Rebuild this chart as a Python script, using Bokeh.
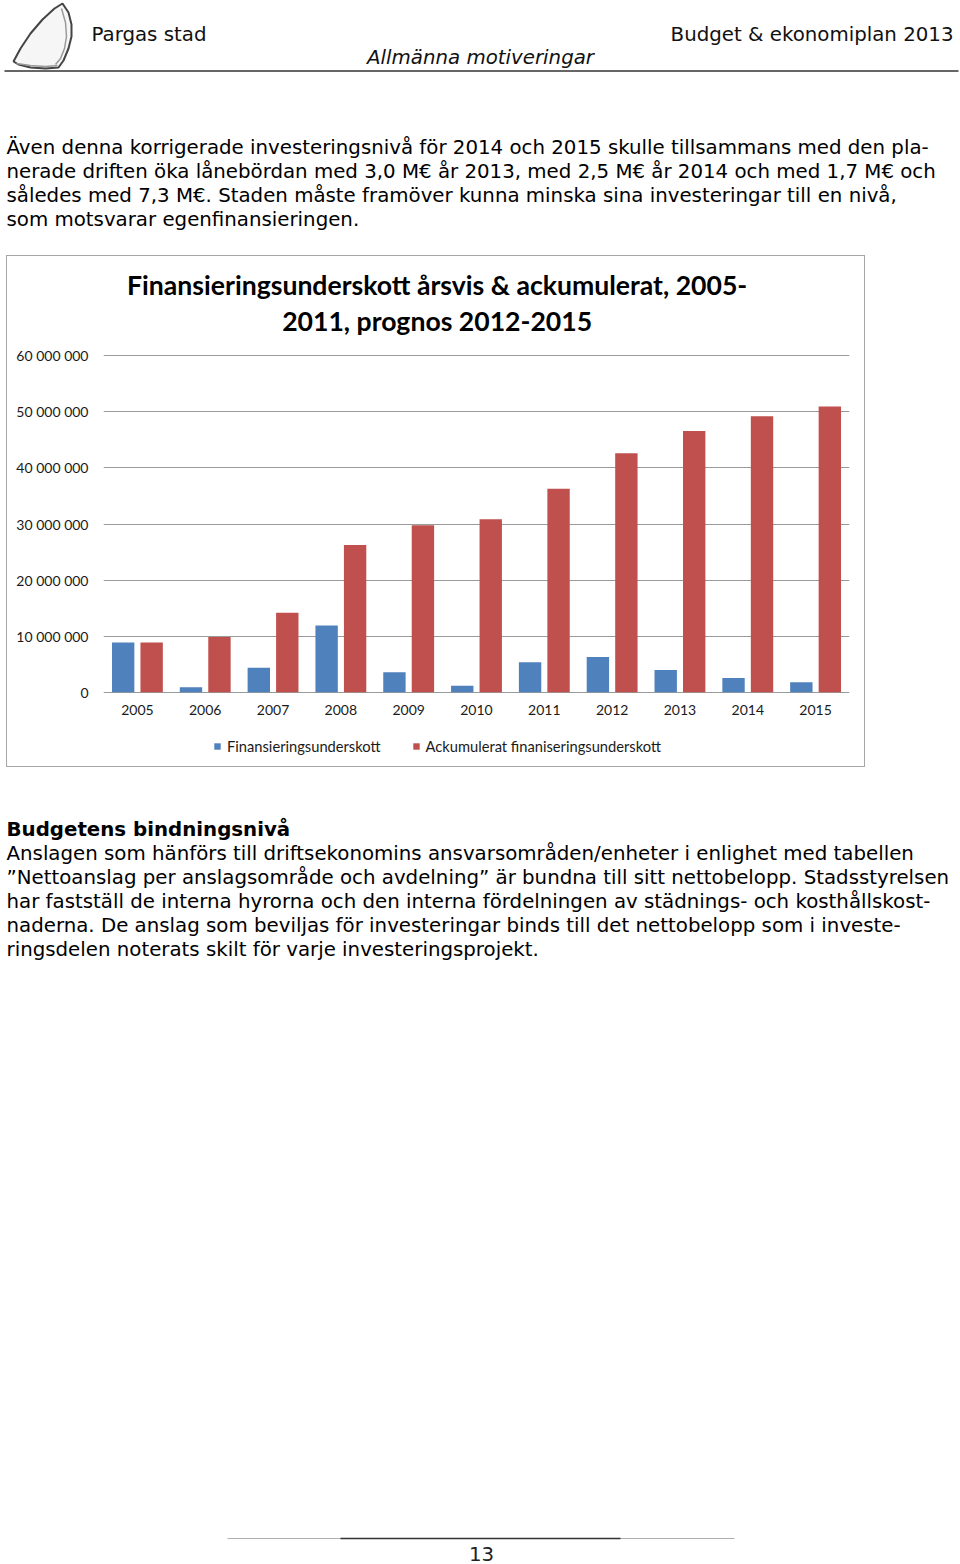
from bokeh.plotting import figure
from bokeh.models import Range1d, FixedTicker, Legend, LegendItem, Label, ColumnDataSource, Spacer
from bokeh.layouts import column, row
from bokeh.embed import file_html
from bokeh.resources import INLINE
from bokeh.core.properties import value
from bokeh.transform import dodge

# ---------------- data ----------------
years = [2005, 2006, 2007, 2008, 2009, 2010, 2011, 2012, 2013, 2014, 2015]
year_labels = ["2005", "2006", "2007", "2008", "2009", "2010", "2011", "2012", "2013", "2014", "2015"]
annual_deficit = [8.87e6, 0.90e6, 4.40e6, 11.90e6, 3.57e6, 1.20e6, 5.36e6, 6.30e6, 4.00e6, 2.56e6, 1.79e6]
cumulative_deficit = [8.87e6, 9.88e6, 14.20e6, 26.25e6, 29.76e6, 30.85e6, 36.30e6, 42.60e6, 46.60e6, 49.20e6, 50.95e6]
y_ticks = [0, 10e6, 20e6, 30e6, 40e6, 50e6, 60e6]
y_tick_labels = ["0", "10 000 000", "20 000 000", "30 000 000", "40 000 000", "50 000 000", "60 000 000"]
series_names = ["Finansieringsunderskott", "Ackumulerat finaniseringsunderskott"]
chart_title = "Finansieringsunderskott årsvis & ackumulerat, 2005-\n2011, prognos 2012-2015"

header_left = "Pargas stad"
header_right = "Budget & ekonomiplan 2013"
header_sub = "Allmänna motiveringar"
para1 = [
    "Även denna korrigerade investeringsnivå för 2014 och 2015 skulle tillsammans med den pla-",
    "nerade driften öka lånebördan med 3,0 M€ år 2013, med 2,5 M€ år 2014 och med 1,7 M€ och",
    "således med 7,3 M€. Staden måste framöver kunna minska sina investeringar till en nivå,",
    "som motsvarar egenfinansieringen.",
]
heading2 = "Budgetens bindningsnivå"
para2 = [
    "Anslagen som hänförs till driftsekonomins ansvarsområden/enheter i enlighet med tabellen",
    "”Nettoanslag per anslagsområde och avdelning” är bundna till sitt nettobelopp. Stadsstyrelsen",
    "har fastställ de interna hyrorna och den interna fördelningen av städnings- och kosthållskost-",
    "naderna. De anslag som beviljas för investeringar binds till det nettobelopp som i investe-",
    "ringsdelen noterats skilt för varje investeringsprojekt.",
]
page_number = "13"

BODY_FONT = "DejaVu Sans"
CHART_FONT = "Lato"
BLUE = "#4F81BD"
RED = "#C0504D"
BODY_SIZE = "19.8px"


def page_fig(y0, y1, width=960):
    p = figure(width=width, height=y1 - y0, x_range=Range1d(0, width),
               y_range=Range1d(y1, y0), output_backend="svg", toolbar_location=None,
               x_axis_location=None, y_axis_location=None,
               min_border=0, min_border_left=0, min_border_right=0,
               min_border_top=0, min_border_bottom=0)
    p.grid.visible = False
    p.outline_line_color = None
    p.background_fill_color = "white"
    p.border_fill_color = "white"
    return p


# ---------------- top of page ----------------
top = page_fig(0, 255)
# sail logo (decoration)
top.patch([62, 68, 71, 71, 68, 63, 58, 45, 30, 18, 13, 20, 30, 42, 54, 62],
          [3, 12, 24, 36, 48, 60, 67, 68, 67, 64, 61, 48, 33, 19, 8, 3],
          fill_color="#f6f6f6", line_color="#444444", line_width=2)
top.line([61, 65, 66, 64, 60, 55], [8, 22, 36, 48, 58, 64], line_color="#9a9a9a", line_width=1.5)
top.line([16, 30, 45, 57], [63, 65, 66, 65], line_color="#9a9a9a", line_width=1.5)
top.text(x=[91], y=[34], text=[header_left], text_font=value(BODY_FONT),
         text_font_size=BODY_SIZE, text_baseline="middle", text_color="#111111")
top.text(x=[953], y=[34], text=[header_right], text_font=value(BODY_FONT),
         text_font_size=BODY_SIZE, text_align="right", text_baseline="middle", text_color="#111111")
top.text(x=[480], y=[57], text=[header_sub], text_font=value(BODY_FONT),
         text_font_size=BODY_SIZE, text_font_style="italic", text_align="center",
         text_baseline="middle", text_color="#111111")
top.line([4, 958], [70.5, 70.5], line_color="#333333", line_width=1.5)
top.text(x=[6] * len(para1), y=[147 + 24 * i for i in range(len(para1))], text=para1,
         text_font=value(BODY_FONT), text_font_size=BODY_SIZE, text_baseline="middle",
         text_color="#000000")

# ---------------- chart ----------------
px_per_unit = (691 - 355) / y_ticks[-1]      # 0 at 691px, top tick at 355px
y_start = -(755 - 691) / px_per_unit         # frame bottom at 755px
y_end = (691 - 265) / px_per_unit            # frame top at 265px

src = ColumnDataSource(dict(x=years, annual=annual_deficit, cum=cumulative_deficit))
c = figure(width=859, height=512, x_range=Range1d(2004.5, 2015.5), y_range=Range1d(y_start, y_end),
           output_backend="svg", toolbar_location=None,
           min_border_left=96, min_border_right=17, min_border_top=9, min_border_bottom=12)
c.styles = {"border": "1px solid #a6a6a6"}
c.outline_line_color = None
c.background_fill_color = "white"
c.border_fill_color = "white"

r1 = c.vbar(x=dodge("x", -0.21, range=c.x_range), top="annual", bottom=0, width=0.33, source=src,
            fill_color=BLUE, line_color=None)
r2 = c.vbar(x=dodge("x", 0.21, range=c.x_range), top="cum", bottom=0, width=0.33, source=src,
            fill_color=RED, line_color=None)

c.xgrid.grid_line_color = None
c.ygrid.ticker = FixedTicker(ticks=y_ticks)
c.ygrid.grid_line_color = "#9a9a9a"
c.ygrid.grid_line_width = 1

c.yaxis.ticker = FixedTicker(ticks=y_ticks)
c.yaxis.major_label_overrides = {t: l for t, l in zip(y_ticks, y_tick_labels)}
c.yaxis.axis_line_color = None
c.yaxis.major_tick_line_color = None
c.yaxis.minor_tick_line_color = None
c.yaxis.major_tick_out = 0
c.yaxis.major_label_standoff = 15
c.yaxis.major_label_text_font = CHART_FONT
c.yaxis.major_label_text_font_size = "14px"
c.yaxis.major_label_text_color = "#1a1a1a"

# category axis sits just under the zero line, inside the plot area
c.xaxis.fixed_location = -(714 - 691) / px_per_unit
c.xaxis.ticker = FixedTicker(ticks=years)
c.xaxis.major_label_overrides = {y: l for y, l in zip(years, year_labels)}
c.xaxis.axis_line_color = None
c.xaxis.major_tick_line_color = None
c.xaxis.minor_tick_line_color = None
c.xaxis.major_tick_out = 0
c.xaxis.major_tick_in = 0
c.xaxis.major_label_standoff = -10
c.xaxis.major_label_text_font = CHART_FONT
c.xaxis.major_label_text_font_size = "14px"
c.xaxis.major_label_text_color = "#1a1a1a"

title_label = Label(x=2009.42, y=(691 - 302.5) / px_per_unit,
                    text=chart_title, text_align="center", text_baseline="middle",
                    text_font=CHART_FONT, text_font_size="26.6px", text_font_style="bold",
                    text_color="#000000", text_line_height=1.12)
c.add_layout(title_label)

legend = Legend(items=[LegendItem(label=series_names[0], renderers=[r1]),
                       LegendItem(label=series_names[1], renderers=[r2])],
                location=(110, 1), orientation="horizontal", padding=0, margin=0,
                spacing=31, glyph_width=8, glyph_height=8, label_standoff=6,
                label_text_font=CHART_FONT, label_text_font_size="14.7px",
                label_text_color="#1a1a1a", border_line_color=None,
                background_fill_alpha=0)
c.add_layout(legend, "center")

chart_row = row(Spacer(width=6, height=514), c, spacing=0)

# ---------------- bottom of page ----------------
bot = page_fig(769, 1564)
bot.text(x=[6], y=[829], text=[heading2], text_font=value(BODY_FONT), text_font_size=BODY_SIZE,
         text_font_style="bold", text_baseline="middle", text_color="#000000")
bot.text(x=[6] * len(para2), y=[853 + 24 * i for i in range(len(para2))], text=para2,
         text_font=value(BODY_FONT), text_font_size=BODY_SIZE, text_baseline="middle",
         text_color="#000000")
bot.line([227, 734], [1538, 1538], line_color="#b0b0b0", line_width=1)
bot.line([340, 620], [1538, 1538], line_color="#333333", line_width=1.5)
bot.text(x=[481], y=[1553], text=[page_number], text_font=value(BODY_FONT), text_font_size=BODY_SIZE,
         text_align="center", text_baseline="middle", text_color="#222222")

layout = column(top, chart_row, bot, spacing=0)
open("out.html", "w").write(file_html(layout, INLINE))
